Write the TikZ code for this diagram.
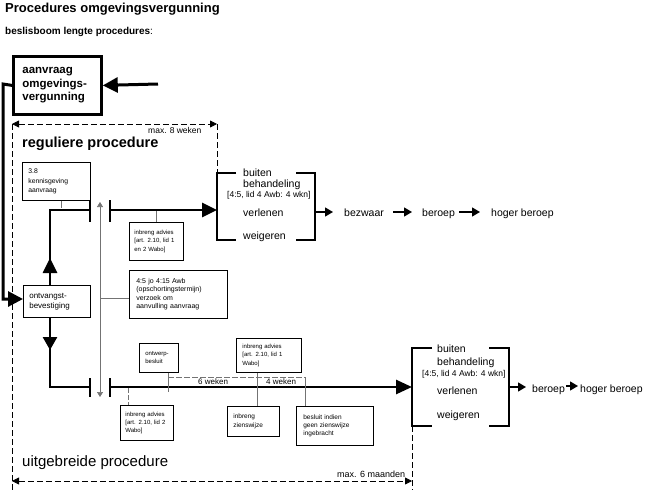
\documentclass[tikz,border=0pt]{standalone}
\usepackage{fontspec}
\setmainfont{Liberation Sans}
\usetikzlibrary{arrows.meta}
\begin{document}
\begin{tikzpicture}[x=1pt,y=-1pt,
  thickln/.style={line width=2.6pt},
  barln/.style={line width=2pt},
  brk/.style={line width=1.2pt},
  thinln/.style={line width=0.6pt, black!55},
  dashln/.style={line width=0.8pt, dash pattern=on 6pt off 3pt},
  dimln/.style={line width=0.6pt, black!55, dash pattern=on 6pt off 2pt},
  smallbox/.style={draw, line width=0.7pt, anchor=north west, inner sep=0pt, align=left, font=\fontsize{6}{8.3}\selectfont},
  sbox/.style n args={3}{smallbox, minimum width=#1, minimum height=#2, text width=#3},
  lbl/.style={anchor=base west, inner sep=0pt},
  mid/.style={font=\fontsize{10.5}{12}\selectfont},
  bigtip/.style={-{Triangle[length=15pt,width=14pt]}},
  smalltip/.style={-{Triangle[length=8pt,width=9pt]}},
  dimtips/.style={{Triangle[length=7pt,width=7pt]}-{Triangle[length=7pt,width=7pt]}},
]
\useasboundingbox (0,0) rectangle (655,495);

% titles
\node[lbl, font=\bfseries\fontsize{13}{15}\selectfont] (title) at (5,12.5) {Procedures omgevingsvergunning};
\node[lbl, font=\bfseries\fontsize{10}{12}\selectfont] (sub) at (5,35) {beslisboom lengte procedures\textmd{:}};

% aanvraag box
\node[draw, line width=2.8pt, anchor=north west, minimum width=88, minimum height=58,
      text width=70, align=left, inner sep=0pt, font=\bfseries\fontsize{11.5}{13.5}\selectfont]
      (av) at (12,55) {aanvraag\\omgevings-\\vergunning};
\coordinate (avin) at (158,84);
\draw[line width=3pt, -{Triangle[length=15pt,width=15pt]}] (avin) -- (av.east);

% boxes
\node[sbox={68}{38}{56}, font=\fontsize{6.8}{9.5}\selectfont] (kb) at (22,162) {3.8\\kennisgeving\\aanvraag};
\node[sbox={67}{32}{55}, font=\fontsize{8}{10}\selectfont] (ob) at (23,285) {ontvangst-\\bevestiging};
\node[sbox={54}{38}{44}] (ia1) at (129,222) {inbreng advies\\{[}art. 2.10, lid 1\\en 2 Wabo{]}};
\node[sbox={98}{48}{84}, font=\fontsize{7}{8.5}\selectfont] (op) at (129,270) {4:5 jo 4:15 Awb\\(opschortingstermijn)\\verzoek om\\aanvulling aanvraag};
\node[sbox={39}{29}{27}] (ob2) at (139,343) {ontwerp-\\besluit};
\node[sbox={65}{34}{53}] (ia3) at (236,338) {inbreng advies\\{[}art. 2.10, lid 1\\Wabo{]}};
\node[sbox={53}{35}{43}] (ia2) at (120,405) {inbreng advies\\{[}art. 2.10, lid 2\\Wabo{]}};
\node[sbox={52}{30}{40}, font=\fontsize{6.5}{8.3}\selectfont] (iz) at (227,406) {inbreng\\zienswijze};
\node[sbox={77}{39}{63}, font=\fontsize{6.5}{8.3}\selectfont] (bi) at (296,406) {besluit indien\\geen zienswijze\\ingebracht};

% path from aanvraag to ontvangstbevestiging
\draw[line width=3pt, -{Triangle[length=15pt,width=15pt]}] (av.west) -- (3,84) -- (3,299) -- (ob.west |- 3,299);

% reguliere procedure
\node[lbl, font=\bfseries\fontsize{14.5}{16}\selectfont] (reg) at (22,147) {reguliere procedure};
\draw[dashln, dimtips] (12,124) -- (217,124);
\node[lbl, font=\fontsize{8.5}{10}\selectfont] (m8) at (148,133) {max. 8 weken};
\draw[dashln] (12,124) -- (12,492);
\draw[dashln] (217,124) -- (217,173);

% upper thick route
\draw[thickln, bigtip] (ob.north -| 50,0) -- (50,258);
\draw[thickln] (50,265) -- (50,210) -- (90,210);
\draw[barln] (90,200) -- (90,222);
\draw[barln] (110,200) -- (110,222);
\coordinate (ubin) at (217,210);
\draw[thickln, bigtip] (110,210) -- (ubin);
\draw[thinln] (kb.south -| 61,0) -- (61,208);
\draw[thinln] (ia1.north) -- (ia1.north |- 0,211);
\draw[thinln, {Triangle[length=5pt,width=6pt]}-{Triangle[length=5pt,width=6pt]}] (100,202) -- (100,397);
\draw[thinln] (100,298) -- (op.west |- 0,298);

% upper bracket
\draw[brk] (236,173) -| (217,240) -- (236,240);
\draw[brk] (296,173) -| (315,240) -- (296,240);
\node[lbl, mid] (ub1) at (243,176) {buiten};
\node[lbl, mid] (ub2) at (243,187) {behandeling};
\node[lbl, font=\fontsize{8.5}{10}\selectfont] (ub3) at (227,197) {[4:5, lid 4 Awb: 4 wkn]};
\node[lbl, mid] (ub4) at (243,216) {verlenen};
\node[lbl, mid] (ub5) at (243,239) {weigeren};
\node[lbl, mid] (bz) at (344,216) {bezwaar};
\node[lbl, mid] (br1) at (422,216) {beroep};
\node[lbl, mid] (hb1) at (491,216) {hoger beroep};
\draw[line width=1.3pt, smalltip, shorten >=11pt] (315,212) -- (bz.west |- 0,212);
\draw[line width=1.3pt, smalltip, shorten <=9pt, shorten >=10pt] (bz.east |- 0,212) -- (br1.west |- 0,212);
\draw[line width=1.3pt, smalltip, shorten <=4pt, shorten >=11pt] (br1.east |- 0,212) -- (hb1.west |- 0,212);

% lower thick route
\draw[thickln, -{Triangle[length=13pt,width=14pt]}] (ob.south -| 50,0) -- (50,350);
\draw[thickln] (50,345) -- (50,387) -- (90,387);
\draw[barln] (90,378) -- (90,397);
\draw[barln] (110,378) -- (110,397);
\coordinate (lbin) at (412,387);
\draw[thickln, -{Triangle[length=16pt,width=14pt]}] (110,387) -- (lbin);
\draw[thinln, dash pattern=on 5pt off 2pt] (128,388) -- (ia2.north -| 128,0);
\draw[thinln] (ob2.south -| 168,0) -- (168,392);
\draw[dimln] (168,377) -- (305,377);
\draw[thinln] (ia3.south -| 257,0) -- (iz.north -| 257,0);
\draw[thinln] (305,377) -- (bi.north -| 305,0);
\node[lbl, font=\fontsize{8}{10}\selectfont] (w6) at (198,384) {6 weken};
\node[lbl, font=\fontsize{8}{10}\selectfont] (w4) at (266,384) {4 weken};

% lower bracket
\draw[brk] (432,348) -| (412,426) -- (432,426);
\draw[brk] (489,348) -| (509,426) -- (489,426);
\node[lbl, mid] (lb1) at (437,352) {buiten};
\node[lbl, mid] (lb2) at (437,365) {behandeling};
\node[lbl, font=\fontsize{8.5}{10}\selectfont] (lb3) at (422,376) {[4:5, lid 4 Awb: 4 wkn]};
\node[lbl, mid] (lb4) at (437,394) {verlenen};
\node[lbl, mid] (lb5) at (437,418) {weigeren};
\node[lbl, mid] (br2) at (532,392) {beroep};
\node[lbl, mid] (hb2) at (580,392) {hoger beroep};
\draw[line width=1.3pt, smalltip, shorten >=6pt] (509,387) -- (br2.west |- 0,387);
\draw[line width=1.3pt, smalltip, shorten <=1pt, shorten >=2pt] (br2.east |- 0,386) -- (hb2.west |- 0,386);

% uitgebreide procedure
\node[lbl, font=\fontsize{15}{17}\selectfont] (uit) at (22,466) {uitgebreide procedure};
\draw[dashln, dimtips] (12,481) -- (412,481);
\node[lbl, font=\fontsize{9}{11}\selectfont] (m6) at (337,477) {max. 6 maanden};
\draw[dashln] (412,426) -- (412,490);
\end{tikzpicture}
\end{document}
